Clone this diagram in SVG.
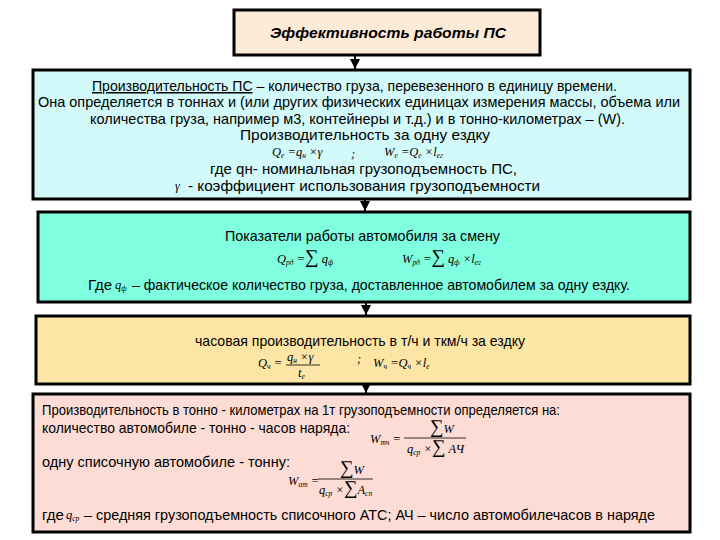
<svg xmlns="http://www.w3.org/2000/svg" width="720" height="540" viewBox="0 0 720 540">
<defs>
<style>
.box{stroke:#000;stroke-width:3}
.t{font-family:"Liberation Sans Narrow","Liberation Sans",Arial,sans-serif;font-size:15px;fill:#000}
.c{text-anchor:middle}
.f{font-family:"Liberation Serif","Times New Roman",serif;font-style:italic;font-size:12.5px;fill:#000}
.s{font-size:7.5px}
.big{font-size:19px;font-style:normal}
.con{stroke:#000;stroke-width:2;fill:none}
</style>
<marker id="ah" viewBox="0 0 10 10" refX="10" refY="5" markerWidth="5" markerHeight="5" orient="auto" markerUnits="strokeWidth">
<path d="M0,0 L10,5 L0,10 z" fill="#000"/>
</marker>
</defs>
<rect width="720" height="540" fill="#fff"/>

<g id="connectors">
<line class="con" x1="355" y1="55" x2="355" y2="69" marker-end="url(#ah)"/>
<line class="con" x1="365" y1="199" x2="365" y2="211" marker-end="url(#ah)"/>
<line class="con" x1="366" y1="302" x2="366" y2="315" marker-end="url(#ah)"/>
<line class="con" x1="366" y1="384" x2="366" y2="393" marker-end="url(#ah)"/>
</g>

<g id="node-title">
<rect class="box" x="234" y="10" width="306" height="45" fill="#FDEBD8"/>
<text class="t" x="270" y="38" font-weight="bold" font-style="italic" font-size="16" textLength="236" lengthAdjust="spacingAndGlyphs">Эффективность работы ПС</text>
</g>

<g id="node-definition">
<rect class="box" x="33" y="70" width="657" height="129" fill="#D2FAFA"/>
<text class="t" x="92" y="91" textLength="525" lengthAdjust="spacingAndGlyphs"><tspan text-decoration="underline">Производительность ПС</tspan> – количество груза, перевезенного в единицу времени.</text>
<text class="t" x="38" y="107" textLength="642" lengthAdjust="spacingAndGlyphs">Она  определяется в тоннах и (или других физических единицах измерения массы, объема или</text>
<text class="t" x="90" y="124" textLength="535" lengthAdjust="spacingAndGlyphs">количества груза, например м3, контейнеры и т.д.) и в тонно-километрах – (W).</text>
<text class="t" x="240" y="140" textLength="250" lengthAdjust="spacingAndGlyphs">Производительность за одну ездку</text>
<text class="f" x="272" y="156">Q<tspan class="s" dy="2">е</tspan><tspan dy="-2"> =q</tspan><tspan class="s" dy="2">н</tspan><tspan dy="-2"> ×γ</tspan></text>
<text class="f" x="351" y="158" font-style="normal">;</text>
<text class="f" x="384" y="156">W<tspan class="s" dy="2">е</tspan><tspan dy="-2"> =Q</tspan><tspan class="s" dy="2">е</tspan><tspan dy="-2"> ×l</tspan><tspan class="s" dy="2">ег</tspan></text>
<text class="t" x="210" y="174" textLength="307" lengthAdjust="spacingAndGlyphs">где qн- номинальная грузоподъемность ПС,</text>
<text class="f" x="175" y="190">γ</text>
<text class="t" x="188" y="191" textLength="352" lengthAdjust="spacingAndGlyphs">- коэффициент использования грузоподъемности</text>
</g>

<g id="node-shift">
<rect class="box" x="38" y="212" width="652" height="90" fill="#7FFFDF"/>
<text class="t" x="225" y="241" textLength="275" lengthAdjust="spacingAndGlyphs">Показатели работы автомобиля за смену</text>
<text class="f" x="277" y="263">Q<tspan class="s" dy="2">рд</tspan><tspan dy="-2"> =</tspan><tspan class="big">∑</tspan><tspan> q</tspan><tspan class="s" dy="2">ф</tspan></text>
<text class="f" x="402" y="263">W<tspan class="s" dy="2">рд</tspan><tspan dy="-2"> =</tspan><tspan class="big">∑</tspan><tspan> q</tspan><tspan class="s" dy="2">ф</tspan><tspan dy="-2"> ×l</tspan><tspan class="s" dy="2">ег</tspan></text>
<text class="t" x="88" y="290">Где</text>
<text class="f" x="115" y="289">q<tspan class="s" dy="2">ф</tspan></text>
<text class="t" x="132" y="290" textLength="498" lengthAdjust="spacingAndGlyphs">– фактическое количество груза, доставленное автомобилем за одну ездку.</text>
</g>

<g id="node-hourly">
<rect class="box" x="36" y="316" width="654" height="68" fill="#FDE5A5"/>
<text class="t" x="195" y="346" textLength="330" lengthAdjust="spacingAndGlyphs">часовая производительность в т/ч и ткм/ч за ездку</text>
<text class="f" x="258" y="367">Q<tspan class="s" dy="2">ч</tspan><tspan dy="-2"> =</tspan></text>
<text class="f" x="287" y="361">q<tspan class="s" dy="2">н</tspan><tspan dy="-2"> ×γ</tspan></text>
<line x1="286" y1="365" x2="320" y2="365" stroke="#000" stroke-width="0.8"/>
<text class="f" x="298" y="377">t<tspan class="s" dy="2">е</tspan></text>
<text class="f" x="357" y="363" font-style="normal">;</text>
<text class="f" x="373" y="367">W<tspan class="s" dy="2">ч</tspan><tspan dy="-2"> =Q</tspan><tspan class="s" dy="2">ч</tspan><tspan dy="-2"> ×l</tspan><tspan class="s" dy="2">е</tspan></text>
</g>

<g id="node-tkm">
<rect class="box" x="33" y="394" width="657" height="138" fill="#FCDCD4"/>
<text class="t" x="42" y="415" textLength="518" lengthAdjust="spacingAndGlyphs">Производительность в тонно - километрах на 1т грузоподъемности определяется на:</text>
<text class="t" x="42" y="433" textLength="308" lengthAdjust="spacingAndGlyphs">количество автомобиле - тонно - часов наряда:</text>
<text class="f" x="370" y="443">W<tspan class="s" dy="2">тч</tspan><tspan dy="-2"> =</tspan></text>
<text class="f" x="430" y="433"><tspan class="big">∑</tspan>W</text>
<line x1="404" y1="438" x2="466" y2="438" stroke="#000" stroke-width="0.8"/>
<text class="f" x="407" y="453">q<tspan class="s" dy="2">ср</tspan><tspan dy="-2"> ×</tspan><tspan class="big">∑</tspan> АЧ</text>
<text class="t" x="42" y="467" textLength="248" lengthAdjust="spacingAndGlyphs">одну списочную автомобиле - тонну:</text>
<text class="f" x="288" y="485">W<tspan class="s" dy="2">ат</tspan><tspan dy="-2"> =</tspan></text>
<text class="f" x="340" y="474"><tspan class="big">∑</tspan>W</text>
<line x1="318" y1="479" x2="373" y2="479" stroke="#000" stroke-width="0.8"/>
<text class="f" x="319" y="494">q<tspan class="s" dy="2">ср</tspan><tspan dy="-2"> ×</tspan><tspan class="big">∑</tspan>A<tspan class="s" dy="2">сп</tspan></text>
<text class="t" x="42" y="520">где</text>
<text class="f" x="66" y="519">q<tspan class="s" dy="2">ср</tspan></text>
<text class="t" x="84" y="520" textLength="571" lengthAdjust="spacingAndGlyphs">– средняя  грузоподъемность списочного АТС; АЧ – число  автомобилечасов в наряде</text>
</g>
</svg>
